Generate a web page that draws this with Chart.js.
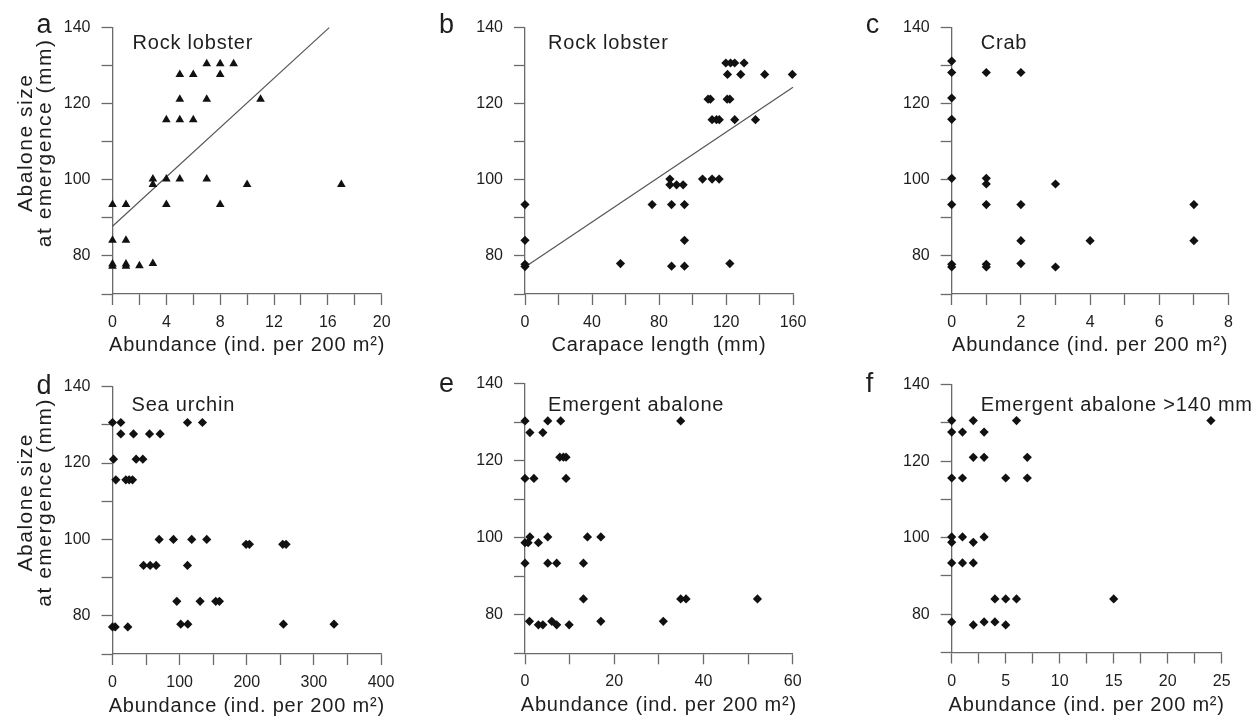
<!DOCTYPE html>
<html><head><meta charset="utf-8">
<script src="https://cdn.jsdelivr.net/npm/chart.js@4.4.1/dist/chart.umd.min.js"></script>
<style>
html,body{margin:0;padding:0;background:#fff;overflow:hidden;}
body{width:1259px;height:718px;position:relative;}
canvas{position:absolute;}
</style>
</head><body>
<canvas id="ca"></canvas><canvas id="cb"></canvas><canvas id="cc"></canvas>
<canvas id="cd"></canvas><canvas id="ce"></canvas><canvas id="cf"></canvas>
<script>
// ---------- data ----------
// a: rock lobster abundance vs abalone size at emergence
const aX = [7,8,9, 5,6,8, 5,7,11, 4,5,6, 3,4,5,7, 3,10,17, 0,1,4,8, 0,1, 3, 0,0,1,1,2];
const aY = [130.5,130.5,130.5, 127.7,127.7,127.7, 121.2,121.2,121.2, 115.8,115.8,115.8,
            100.2,100.2,100.2,100.2, 98.8,98.8,98.8, 93.5,93.5,93.5,93.5, 84.1,84.1, 78.0,
            77.3,77.9,77.3,77.9,77.4];
const aLineX = [0, 16.1];
const aLineY = [87.8, 140];
// b: rock lobster carapace length
const bX = [119.9,122.7,125.2,130.8, 120.9,128.8,143.1,159.6, 109.3,110.7,120.7,122.3,
            111.7,114.3,116,125.2,137.6, 106,111.7,115.9,86.5, 86.5,90.5,94.4,
            0,75.9,87.5,95.2, 0,95.2, 57,122.3, 0,0,87.5,95.2];
const bY = [130.7,130.7,130.7,130.7, 127.7,127.7,127.7,127.7, 121.2,121.2,121.2,121.2,
            115.8,115.8,115.8,115.8,115.8, 100.2,100.2,100.2,100.2, 98.7,98.7,98.7,
            93.5,93.5,93.5,93.5, 84.1,84.1, 78.0,78.0, 77.8,77.2,77.3,77.3];
const bLineX = [0, 160];
const bLineY = [77.1, 124.3];
// c: crab abundance
const cX = [0, 0,1,2, 0, 0, 0, 1,1,3, 0,1,2,7, 2,4,7, 2, 0,0,1,1,3];
const cY = [131.2, 128.2,128.2,128.2, 121.5, 115.9, 100.4, 100.4,98.9,98.9,
            93.5,93.5,93.5,93.5, 84,84,84, 78, 77.8,77.1,77.8,77.1,77.1];
// d: sea urchin abundance
const dX = [0,12.4,111.7,134, 12.4,31.3,55.1,71, 1.5,35.2,45.2, 5,19.9,24.8,29.8,
            69.5,90.8,118,140.4, 199,204,253.6,258.6, 46.2,56.1,65,111.7,
            95.8,130.5,153.8,159.3, 101.7,112.2,254.6,330, 0,4,22.8];
const dY = [130.6,130.6,130.6,130.6, 127.6,127.6,127.6,127.6, 121,121,121, 115.6,115.6,115.6,115.6,
            100,100,100,100, 98.7,98.7,98.7,98.7, 93.2,93.2,93.2,93.2,
            83.8,83.8,83.8,83.8, 77.8,77.8,77.8,77.8, 77.1,77.1,77.1];
// e: emergent abalone abundance
const eX = [0,5.1,8,34.9, 1.1,4, 7.8,8.6,9.2, 0,2,9.2, 1.1,5.1,14,17, 0,0.7,3,
            0,5.1,7.1,13.1, 13.1,34.9,36.1,52.1, 1,6,17,31, 3,4,7.1,9.9];
const eY = [130.3,130.3,130.3,130.3, 127.3,127.3, 120.9,120.9,120.9, 115.4,115.4,115.4,
            100.2,100.2,100.2,100.2, 98.7,98.7,98.7, 93.4,93.4,93.4,93.4,
            84.1,84.1,84.1,84.1, 78.3,78.3,78.3,78.3, 77.4,77.4,77.4,77.4];
// f: emergent abalone >140 mm abundance
const fX = [0,2,6,24, 0,1,3, 2,3,7, 0,1,5,7, 0,1,3, 0,2, 0,1,2, 4,5,6,15, 0,3,4, 2,5];
const fY = [130.6,130.6,130.6,130.6, 127.6,127.6,127.6, 121,121,121, 115.6,115.6,115.6,115.6,
            100.2,100.2,100.2, 98.8,98.8, 93.4,93.4,93.4, 84,84,84,84, 78,78,78, 77.2,77.2];

// axis / tick labels
const yTicksMin = 70, yTicksMax = 140, yStep = 10, yLabelStep = 20;
const yTitleLines = ['Abalone size', 'at emergence (mm)'];
const xTitleAbund = 'Abundance (ind. per 200 m\u00B2)';
const xTitleCarapace = 'Carapace length (mm)';

// ---------- styling ----------
const FONT = '"Liberation Sans", Arial, Helvetica, sans-serif';
const TEXT = '#1e1e1e';
const AXIS = '#6a6a6a';
const MARK = '#111111';

const annot = {
  id: 'annot',
  afterDraw(chart, args, o) {
    const ctx = chart.ctx, ca = chart.chartArea;
    ctx.save();
    ctx.fillStyle = TEXT;
    ctx.textBaseline = 'alphabetic';
    ctx.letterSpacing = '0.8px';
    ctx.font = '20px ' + FONT;
    ctx.textAlign = 'left';
    ctx.fillText(o.title, ca.left + o.tx, ca.top + o.ty);
    ctx.textAlign = 'center';
    ctx.fillText(o.xTitle, (ca.left + ca.right) / 2, ca.bottom + o.xty);
    if (o.yTitle) {
      ctx.letterSpacing = '1.5px';
      ctx.font = '21px ' + FONT;
      const cy = (ca.top + ca.bottom) / 2 - 18;
      const xs = [ca.left - 81, ca.left - 62];
      o.yTitle.forEach((line, i) => {
        ctx.save();
        ctx.translate(xs[i], cy);
        ctx.rotate(-Math.PI / 2);
        ctx.textAlign = 'center';
        ctx.fillText(line, 0, 0);
        ctx.restore();
      });
    }
    ctx.letterSpacing = '0px';
    ctx.font = '27px ' + FONT;
    ctx.textAlign = 'left';
    ctx.fillText(o.letter, ca.left + o.lx, ca.top + o.ly);
    ctx.restore();
  }
};

function makePanel(p) {
  const padT = 15, padR = 40, padB = 66;
  const padL = p.L - p.cx;
  const cv = document.getElementById(p.id);
  const W = Math.round(padL + (p.R - p.L) + padR);
  const H = Math.round(p.B - p.T + padT + padB);
  const top = Math.round(p.T - padT);
  const realPadT = p.T - top;
  const realPadB = (top + H) - p.B;
  const realPadR = W - padL - (p.R - p.L);
  cv.width = W; cv.height = H;
  cv.style.left = p.cx + 'px'; cv.style.top = top + 'px';
  cv.style.width = W + 'px'; cv.style.height = H + 'px';

  const pts = p.xs.map((x, i) => ({ x: x, y: p.ys[i] }));
  const datasets = [{
    data: pts,
    pointStyle: p.style,
    pointRadius: p.radius,
    pointBackgroundColor: MARK,
    pointBorderWidth: 0,
    showLine: false,
    clip: false
  }];
  if (p.lx2) {
    datasets.push({
      data: p.lx2.map((x, i) => ({ x: x, y: p.ly2[i] })),
      showLine: true,
      pointRadius: 0,
      borderColor: '#555555',
      borderWidth: 1.2,
      fill: false,
      clip: false
    });
  }
  const xl = p.xlab;
  new Chart(cv, {
    type: 'scatter',
    data: { datasets },
    options: {
      responsive: false,
      animation: false,
      devicePixelRatio: 1,
      events: [],
      layout: { padding: { left: 0, top: realPadT, right: realPadR, bottom: 0 } },
      plugins: {
        legend: { display: false },
        tooltip: { enabled: false },
        annot: p.annot
      },
      scales: {
        x: {
          type: 'linear', min: 0, max: p.xmax,
          afterFit: s => { s.height = realPadB; },
          ticks: {
            stepSize: p.xstep, autoSkip: false, maxRotation: 0, padding: 8,
            color: TEXT, font: { family: FONT, size: 16 },
            callback: v => (Math.abs(v / xl - Math.round(v / xl)) < 1e-6) ? String(v) : ''
          },
          grid: { drawOnChartArea: false, drawTicks: true, tickLength: 11, tickColor: AXIS, tickWidth: 1.3 },
          border: { display: true, color: AXIS, width: 1.3 }
        },
        y: {
          type: 'linear', min: yTicksMin, max: yTicksMax,
          afterFit: s => { s.width = padL; },
          ticks: {
            stepSize: yStep, autoSkip: false, padding: 11,
            color: TEXT, font: { family: FONT, size: 16 },
            callback: v => (v >= 80 && v % yLabelStep === 0) ? String(v) : ''
          },
          grid: { drawOnChartArea: false, drawTicks: true, tickLength: 11, tickColor: AXIS, tickWidth: 1.3 },
          border: { display: true, color: AXIS, width: 1.3 }
        }
      }
    },
    plugins: [annot]
  });
}

makePanel({ id: 'ca', cx: 0, L: 112.5, T: 21.7, R: 381.7, B: 294, xmax: 20, xstep: 2, xlab: 4,
  xs: aX, ys: aY, style: 'triangle', radius: 5, lx2: aLineX, ly2: aLineY,
  annot: { title: 'Rock lobster', tx: 20, ty: 21, xTitle: xTitleAbund, xty: 57, yTitle: yTitleLines, letter: 'a', lx: -76, ly: 5 } });
makePanel({ id: 'cb', cx: 430, L: 525, T: 21.7, R: 793, B: 294, xmax: 160, xstep: 20, xlab: 40,
  xs: bX, ys: bY, style: 'rectRot', radius: 4.6, lx2: bLineX, ly2: bLineY,
  annot: { title: 'Rock lobster', tx: 23, ty: 21, xTitle: xTitleCarapace, xty: 57, letter: 'b', lx: -86, ly: 5 } });
makePanel({ id: 'cc', cx: 862, L: 951.7, T: 21.7, R: 1228.5, B: 294, xmax: 8, xstep: 1, xlab: 2,
  xs: cX, ys: cY, style: 'rectRot', radius: 4.6,
  annot: { title: 'Crab', tx: 29, ty: 21, xTitle: xTitleAbund, xty: 57, letter: 'c', lx: -86, ly: 5 } });
makePanel({ id: 'cd', cx: 0, L: 112.5, T: 381, R: 381, B: 654, xmax: 400, xstep: 50, xlab: 100,
  xs: dX, ys: dY, style: 'rectRot', radius: 4.6,
  annot: { title: 'Sea urchin', tx: 19, ty: 24, xTitle: xTitleAbund, xty: 58, yTitle: yTitleLines, letter: 'd', lx: -76, ly: 7 } });
makePanel({ id: 'ce', cx: 430, L: 525, T: 378, R: 792.7, B: 653.3, xmax: 60, xstep: 10, xlab: 20,
  xs: eX, ys: eY, style: 'rectRot', radius: 4.6,
  annot: { title: 'Emergent abalone', tx: 23, ty: 27, xTitle: xTitleAbund, xty: 58, letter: 'e', lx: -86, ly: 8 } });
makePanel({ id: 'cf', cx: 862, L: 951.7, T: 379, R: 1221.7, B: 652.5, xmax: 25, xstep: 2.5, xlab: 5,
  xs: fX, ys: fY, style: 'rectRot', radius: 4.6,
  annot: { title: 'Emergent abalone >140 mm', tx: 29, ty: 26, xTitle: xTitleAbund, xty: 58, letter: 'f', lx: -86, ly: 7 } });
</script>
</body></html>
